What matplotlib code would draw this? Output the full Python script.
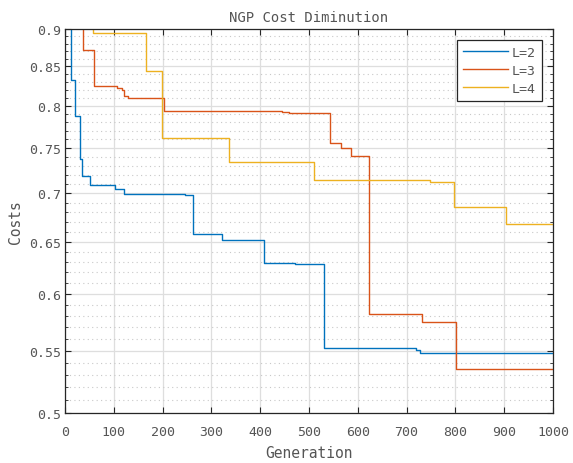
import matplotlib
matplotlib.use("Agg")
import matplotlib.pyplot as plt
from matplotlib.ticker import FixedLocator, FixedFormatter, NullFormatter
import numpy as np

# Data
gen_L2 = [0, 13, 20, 31, 35, 51, 103, 120, 246, 262, 294, 322, 408, 471, 531, 719, 728, 1000]
cost_L2 = [0.95, 0.832, 0.788, 0.738, 0.719, 0.709, 0.7045, 0.699, 0.698, 0.658, 0.6575, 0.6513,
           0.6287, 0.628, 0.5526, 0.551, 0.548, 0.548]

gen_L3 = [0, 36, 59, 107, 116, 121, 130, 203, 445, 459, 543, 565, 587, 623, 731, 801, 1000]
cost_L3 = [0.95, 0.871, 0.8245, 0.8225, 0.820, 0.8127, 0.810, 0.7938, 0.7925, 0.791, 0.7555,
           0.750, 0.7414, 0.5816, 0.575, 0.5346, 0.5346]

gen_L4 = [0, 58, 166, 199, 336, 510, 748, 797, 904, 1000]
cost_L4 = [0.95, 0.8946, 0.8436, 0.7613, 0.7339, 0.7146, 0.712, 0.6857, 0.6678, 0.6678]

labels = ["L=2", "L=3", "L=4"]
colors = ["#0072BD", "#D95319", "#EDB120"]

y_major = [0.5, 0.55, 0.6, 0.65, 0.7, 0.75, 0.8, 0.85, 0.9]
y_major_labels = ["0.5", "0.55", "0.6", "0.65", "0.7", "0.75", "0.8", "0.85", "0.9"]
x_ticks = list(range(0, 1001, 100))

font = "DejaVu Sans Mono"
tcol = "#555555"
plt.rcParams['font.family'] = [font]

fig = plt.figure(figsize=(5.73, 4.64), dpi=100)
ax = fig.add_axes([65/573, 1-414/464, (553-65)/573, (414-30)/464])

for g, c, lab, col in zip([gen_L2, gen_L3, gen_L4], [cost_L2, cost_L3, cost_L4], labels, colors):
    ax.step(g, c, where='post', color=col, lw=1.0, label=lab)

ax.set_yscale('log')
ax.set_xlim(0, 1000)
ax.set_ylim(0.5, 0.9)
ax.yaxis.set_major_locator(FixedLocator(y_major))
ax.yaxis.set_major_formatter(FixedFormatter(y_major_labels))
minors = [round(v, 2) for v in np.arange(0.51, 0.90, 0.01) if round(v, 2) not in y_major]
ax.yaxis.set_minor_locator(FixedLocator(minors))
ax.yaxis.set_minor_formatter(NullFormatter())
ax.set_xticks(x_ticks)
ax.set_xticklabels([str(t) for t in x_ticks])

ax.grid(True, which='major', color='#dedede', lw=0.9, ls='-')
ax.grid(True, which='minor', axis='y', color='#c8c8c8', lw=0.8, ls=(0, (1, 3)))
ax.set_axisbelow(True)

ax.tick_params(which='both', direction='in', top=True, right=True, colors='#262626',
               labelcolor=tcol, labelsize=9.5)
ax.tick_params(which='major', length=4)
ax.tick_params(which='minor', length=2.5)
ax.tick_params(axis='x', pad=9)
ax.tick_params(axis='y', pad=3)
for s in ax.spines.values():
    s.set_color('#262626')
    s.set_linewidth(0.9)

ax.set_title("NGP Cost Diminution", fontsize=10, color=tcol, pad=6)
ax.set_xlabel("Generation", fontsize=10.5, color=tcol, labelpad=5)
ax.set_ylabel("Costs", fontsize=10.5, color=tcol, labelpad=4)

leg = ax.legend(loc='upper right', bbox_to_anchor=(0.977, 0.971), borderaxespad=0,
                fontsize=9.5, handlelength=3.4, handletextpad=0.3, fancybox=False, framealpha=1,
                edgecolor='#262626', labelspacing=0.38, borderpad=0.45)
leg.get_frame().set_linewidth(0.9)
for t in leg.get_texts():
    t.set_color(tcol)

fig.savefig("out.png", dpi=100)
